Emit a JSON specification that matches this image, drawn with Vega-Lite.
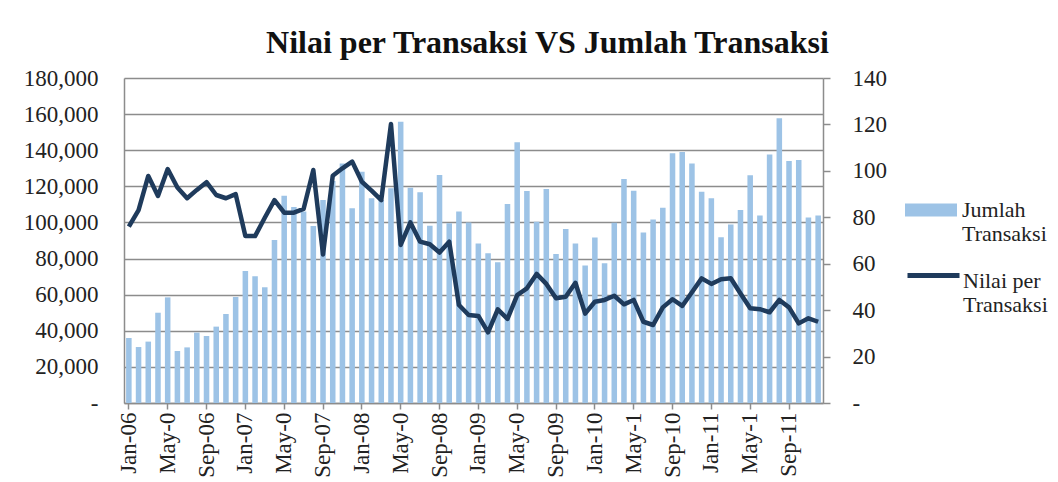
{
  "$schema": "https://vega.github.io/schema/vega-lite/v6.json",
  "width": 699,
  "height": 325,
  "autosize": {"type": "none"},
  "padding": {"left": 124, "top": 78, "right": 235, "bottom": 79},
  "background": "white",
  "config": {
    "font": "Liberation Serif",
    "view": {"stroke": null},
    "axis": {"labelFont": "Liberation Serif", "labelColor": "#222", "domainColor": "#8c8c8c", "tickColor": "#8c8c8c", "domainWidth": 1.5, "tickWidth": 1.5, "labelFontSize": 23}
  },
  "title": {
    "text": "Nilai per Transaksi VS Jumlah Transaksi",
    "font": "Liberation Serif",
    "fontSize": 32,
    "fontWeight": "bold",
    "color": "#111",
    "anchor": "middle",
    "dx": 74,
    "dy": 41,
    "baseline": "alphabetic",
    "offset": 23
  },
  "data": {
    "values": [
      {"m": "Jan-06", "j": 36000, "n": 76},
      {"m": "Feb-06", "j": 31000, "n": 83.1},
      {"m": "Mar-06", "j": 34000, "n": 97.8},
      {"m": "Apr-06", "j": 50000, "n": 89.2},
      {"m": "May-06", "j": 58500, "n": 100.8},
      {"m": "Jun-06", "j": 28800, "n": 92.8},
      {"m": "Jul-06", "j": 30800, "n": 88.2},
      {"m": "Aug-06", "j": 39000, "n": 91.8},
      {"m": "Sep-06", "j": 37100, "n": 95.1},
      {"m": "Oct-06", "j": 42300, "n": 89.6},
      {"m": "Nov-06", "j": 49300, "n": 88.2},
      {"m": "Dec-06", "j": 58700, "n": 90.0},
      {"m": "Jan-07", "j": 73100, "n": 71.9},
      {"m": "Feb-07", "j": 70200, "n": 71.9},
      {"m": "Mar-07", "j": 64100, "n": 79.8},
      {"m": "Apr-07", "j": 90300, "n": 87.4},
      {"m": "May-07", "j": 114800, "n": 82},
      {"m": "Jun-07", "j": 108500, "n": 82},
      {"m": "Jul-07", "j": 106000, "n": 83.6},
      {"m": "Aug-07", "j": 98000, "n": 100.4},
      {"m": "Sep-07", "j": 112400, "n": 64},
      {"m": "Oct-07", "j": 123000, "n": 97.9},
      {"m": "Nov-07", "j": 132700, "n": 101.1},
      {"m": "Dec-07", "j": 107800, "n": 104},
      {"m": "Jan-08", "j": 128100, "n": 95.3},
      {"m": "Feb-08", "j": 113400, "n": 91.5},
      {"m": "Mar-08", "j": 112400, "n": 87.4},
      {"m": "Apr-08", "j": 118900, "n": 120.2},
      {"m": "May-08", "j": 155800, "n": 68.1},
      {"m": "Jun-08", "j": 119200, "n": 77.8},
      {"m": "Jul-08", "j": 116700, "n": 69.5},
      {"m": "Aug-08", "j": 98200, "n": 68.4},
      {"m": "Sep-08", "j": 126300, "n": 64.8},
      {"m": "Oct-08", "j": 99500, "n": 69.5},
      {"m": "Nov-08", "j": 106000, "n": 42.2},
      {"m": "Dec-08", "j": 100000, "n": 37.9},
      {"m": "Jan-09", "j": 88400, "n": 37.5},
      {"m": "Feb-09", "j": 82900, "n": 30.4},
      {"m": "Mar-09", "j": 78000, "n": 40.3},
      {"m": "Apr-09", "j": 110200, "n": 36.2},
      {"m": "May-09", "j": 144400, "n": 46.5},
      {"m": "Jun-09", "j": 117400, "n": 49.4},
      {"m": "Jul-09", "j": 100400, "n": 55.6},
      {"m": "Aug-09", "j": 118500, "n": 51.3},
      {"m": "Sep-09", "j": 82500, "n": 45.1},
      {"m": "Oct-09", "j": 96400, "n": 45.8},
      {"m": "Nov-09", "j": 88400, "n": 51.8},
      {"m": "Dec-09", "j": 76200, "n": 38.5},
      {"m": "Jan-10", "j": 91600, "n": 43.6},
      {"m": "Feb-10", "j": 77400, "n": 44.4},
      {"m": "Mar-10", "j": 99900, "n": 46.2},
      {"m": "Apr-10", "j": 124000, "n": 42.5},
      {"m": "May-10", "j": 117600, "n": 44.4},
      {"m": "Jun-10", "j": 94500, "n": 35},
      {"m": "Jul-10", "j": 101700, "n": 33.6},
      {"m": "Aug-10", "j": 108200, "n": 41.2},
      {"m": "Sep-10", "j": 138300, "n": 44.7},
      {"m": "Oct-10", "j": 139000, "n": 41.8},
      {"m": "Nov-10", "j": 132700, "n": 47.7},
      {"m": "Dec-10", "j": 117000, "n": 53.7},
      {"m": "Jan-11", "j": 113400, "n": 51.3},
      {"m": "Feb-11", "j": 91800, "n": 53.3},
      {"m": "Mar-11", "j": 98800, "n": 53.7},
      {"m": "Apr-11", "j": 106900, "n": 47.2},
      {"m": "May-11", "j": 126100, "n": 40.8},
      {"m": "Jun-11", "j": 103900, "n": 40.4},
      {"m": "Jul-11", "j": 137700, "n": 39.1},
      {"m": "Aug-11", "j": 157700, "n": 44.4},
      {"m": "Sep-11", "j": 134000, "n": 41.2},
      {"m": "Oct-11", "j": 134600, "n": 34.3},
      {"m": "Nov-11", "j": 102800, "n": 36.5},
      {"m": "Dec-11", "j": 103900, "n": 35}
    ]
  },
  "encoding": {
    "x": {
      "field": "m",
      "type": "ordinal",
      "sort": null,
      "scale": {"paddingInner": 0.43, "paddingOuter": 0.215},
      "axis": {
        "title": null,
        "labelAngle": -90,
        "labelFontSize": 23,
        "labelPadding": 3,
        "tickSize": 6,
        "values": ["Jan-06","May-06","Sep-06","Jan-07","May-07","Sep-07","Jan-08","May-08","Sep-08","Jan-09","May-09","Sep-09","Jan-10","May-10","Sep-10","Jan-11","May-11","Sep-11"],
        "labelExpr": "slice(datum.label, 0, 3) == 'May' ? slice(datum.label, 0, 5) : datum.label"
      }
    }
  },
  "layer": [
    {
      "mark": {"type": "bar", "opacity": 1},
      "encoding": {
        "y": {
          "field": "j",
          "type": "quantitative",
          "scale": {"domain": [0, 180000], "nice": false},
          "axis": {
            "title": null,
            "values": [0,20000,40000,60000,80000,100000,120000,140000,160000,180000],
            "grid": true,
            "gridColor": "#8c8c8c",
            "gridWidth": 1.5,
            "ticks": false,
            "labelPadding": 26,
            "labelExpr": "datum.value == 0 ? '-' : format(datum.value, ',')"
          }
        },
        "fill": {
          "datum": "Jumlah Transaksi",
          "scale": {"range": ["#9dc3e6"]},
          "legend": {
            "orient": "none",
            "legendX": 781,
            "legendY": 96,
            "title": null,
            "padding": 0,
            "symbolType": "M-1,0.135L1,0.135L1,0.635L-1,0.635Z",
            "symbolSize": 2704,
            "symbolStrokeWidth": 0,
            "labelFont": "Liberation Serif",
            "labelFontSize": 22,
            "labelColor": "#222",
            "labelOffset": 5,
            "labelBaseline": "top",
            "labelExpr": "['Jumlah', 'Transaksi']"
          }
        }
      }
    },
    {
      "mark": {"type": "line", "strokeWidth": 4.5, "strokeJoin": "round"},
      "encoding": {
        "y": {
          "field": "n",
          "type": "quantitative",
          "scale": {"domain": [0, 140], "nice": false},
          "axis": {
            "title": null,
            "orient": "right",
            "values": [0,20,40,60,80,100,120,140],
            "grid": false,
            "tickSize": 7,
            "labelPadding": 22,
            "labelExpr": "datum.value == 0 ? '-' : format(datum.value, ',')"
          }
        },
        "stroke": {
          "datum": "Nilai per Transaksi",
          "scale": {"range": ["#1f3b5c"]},
          "legend": {
            "orient": "none",
            "legendX": 781,
            "legendY": 164,
            "title": null,
            "padding": 0,
            "symbolType": "M-1,0.19L1,0.19",
            "symbolSize": 2704,
            "symbolStrokeWidth": 5,
            "labelFont": "Liberation Serif",
            "labelFontSize": 22,
            "labelColor": "#222",
            "labelOffset": 1,
            "labelBaseline": "top",
            "labelExpr": "['Nilai per', 'Transaksi']"
          }
        }
      }
    }
  ],
  "resolve": {"scale": {"y": "independent", "fill": "independent", "stroke": "independent"}}
}
